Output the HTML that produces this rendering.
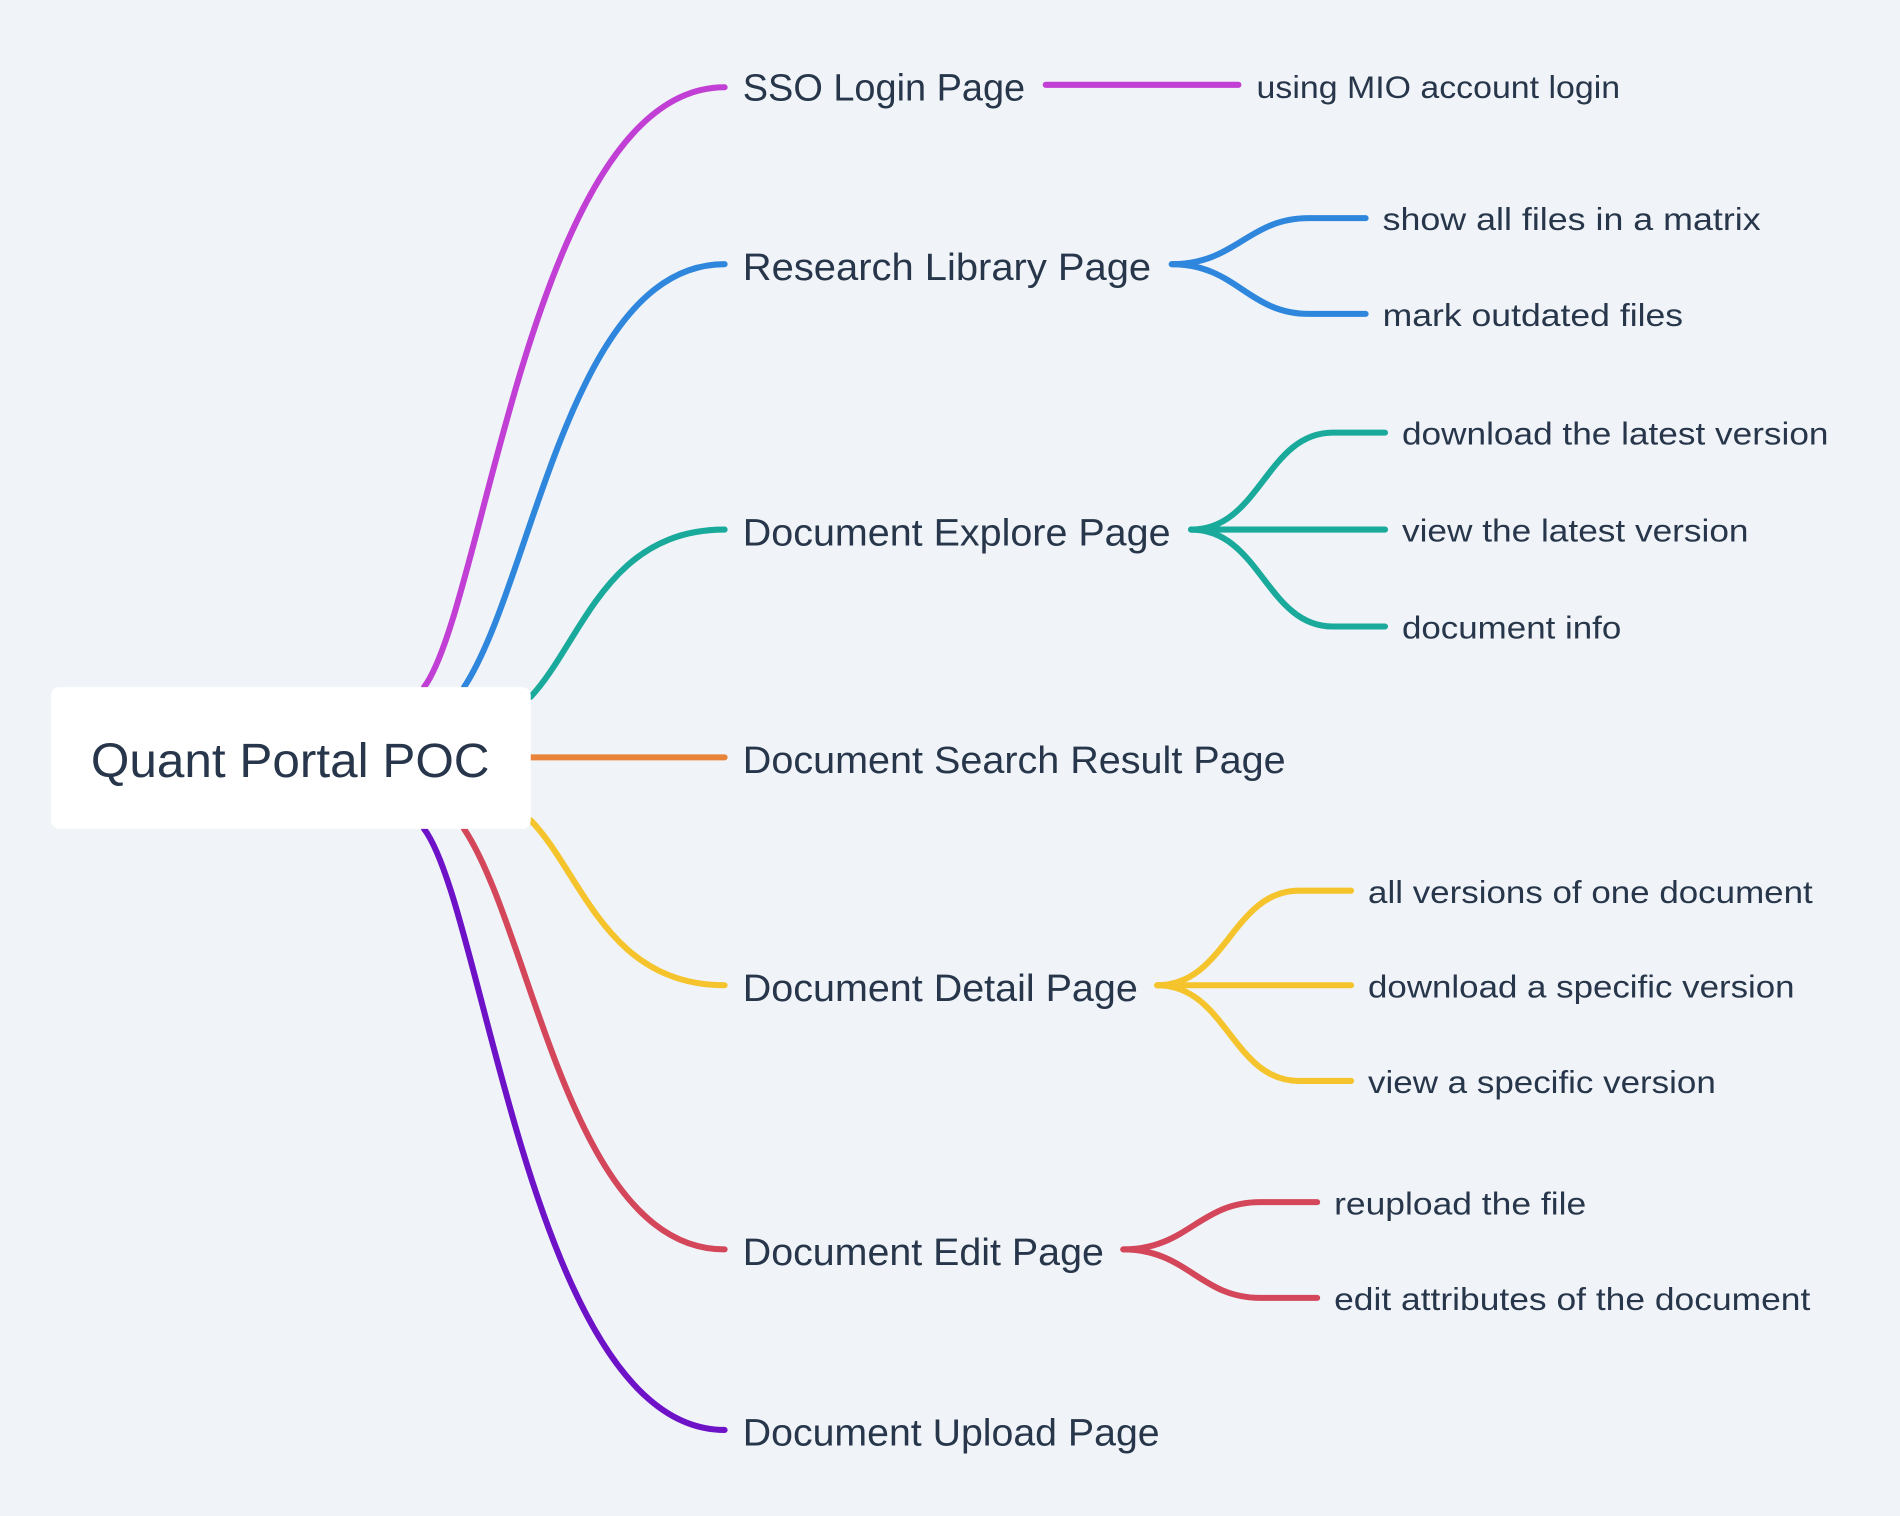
<!DOCTYPE html>
<html><head><meta charset="utf-8"><style>
html,body{margin:0;padding:0;background:#f0f4f8;}
svg{display:block}
text{font-family:"Liberation Sans",sans-serif;fill:#27364a}
.l{font-size:31px}
.s{font-size:26px}
path{fill:none;stroke-width:5;stroke-linecap:round}
</style></head><body>
<svg width="1900" height="1516" viewBox="0 0 1568 1251" preserveAspectRatio="none">
<rect width="1568" height="1251" fill="#f0f4f8"/>
<path stroke="#c13fd4" d="M350 567 C400 500, 440 72, 598 72"/>
<path stroke="#2f86dd" d="M383 567 C440 480, 470 218, 598 218"/>
<path stroke="#1aaa9b" d="M438 575 C480 530, 500 437, 598 437"/>
<path stroke="#e8833a" d="M438 625 L598 625"/>
<path stroke="#f5c32c" d="M438 677 C480 720, 500 813, 598 813"/>
<path stroke="#d4475a" d="M383 684 C440 770, 470 1031, 598 1031"/>
<path stroke="#6e12c8" d="M350 684 C400 750, 440 1180, 598 1180"/>
<rect x="42" y="567" width="396" height="117" rx="7" fill="#fff"/>
<text x="75" y="641" style="font-size:40px" textLength="329" lengthAdjust="spacingAndGlyphs">Quant Portal POC</text>
<text class="l" x="613" y="83" textLength="233" lengthAdjust="spacingAndGlyphs">SSO Login Page</text>
<text class="l" x="613" y="231" textLength="337" lengthAdjust="spacingAndGlyphs">Research Library Page</text>
<text class="l" x="613" y="450" textLength="353" lengthAdjust="spacingAndGlyphs">Document Explore Page</text>
<text class="l" x="613" y="638" textLength="448" lengthAdjust="spacingAndGlyphs">Document Search Result Page</text>
<text class="l" x="613" y="826" textLength="326" lengthAdjust="spacingAndGlyphs">Document Detail Page</text>
<text class="l" x="613" y="1044" textLength="298" lengthAdjust="spacingAndGlyphs">Document Edit Page</text>
<text class="l" x="613" y="1193" textLength="344" lengthAdjust="spacingAndGlyphs">Document Upload Page</text>

<path stroke="#c13fd4" d="M863 70 L1022 70"/>
<text class="s" x="1037" y="81" textLength="300" lengthAdjust="spacingAndGlyphs">using MIO account login</text>

<path stroke="#2f86dd" d="M967 218 C1020 218, 1030 180, 1080 180 L1127 180"/>
<path stroke="#2f86dd" d="M967 218 C1020 218, 1030 259, 1080 259 L1127 259"/>
<text class="s" x="1141" y="190" textLength="312" lengthAdjust="spacingAndGlyphs">show all files in a matrix</text>
<text class="s" x="1141" y="269" textLength="248" lengthAdjust="spacingAndGlyphs">mark outdated files</text>

<path stroke="#1aaa9b" d="M983 437 C1040 437, 1045 357, 1100 357 L1143 357"/>
<path stroke="#1aaa9b" d="M983 437 L1143 437"/>
<path stroke="#1aaa9b" d="M983 437 C1040 437, 1045 517, 1100 517 L1143 517"/>
<text class="s" x="1157" y="367" textLength="352" lengthAdjust="spacingAndGlyphs">download the latest version</text>
<text class="s" x="1157" y="447" textLength="286" lengthAdjust="spacingAndGlyphs">view the latest version</text>
<text class="s" x="1157" y="527" textLength="181" lengthAdjust="spacingAndGlyphs">document info</text>

<path stroke="#f5c32c" d="M955 813 C1012 813, 1017 735, 1072 735 L1115 735"/>
<path stroke="#f5c32c" d="M955 813 L1115 813"/>
<path stroke="#f5c32c" d="M955 813 C1012 813, 1017 892, 1072 892 L1115 892"/>
<text class="s" x="1129" y="745" textLength="367" lengthAdjust="spacingAndGlyphs">all versions of one document</text>
<text class="s" x="1129" y="823" textLength="352" lengthAdjust="spacingAndGlyphs">download a specific version</text>
<text class="s" x="1129" y="902" textLength="287" lengthAdjust="spacingAndGlyphs">view a specific version</text>

<path stroke="#d4475a" d="M927 1031 C980 1031, 990 992, 1040 992 L1087 992"/>
<path stroke="#d4475a" d="M927 1031 C980 1031, 990 1071, 1040 1071 L1087 1071"/>
<text class="s" x="1101" y="1002" textLength="208" lengthAdjust="spacingAndGlyphs">reupload the file</text>
<text class="s" x="1101" y="1081" textLength="393" lengthAdjust="spacingAndGlyphs">edit attributes of the document</text>
</svg>
</body></html>
